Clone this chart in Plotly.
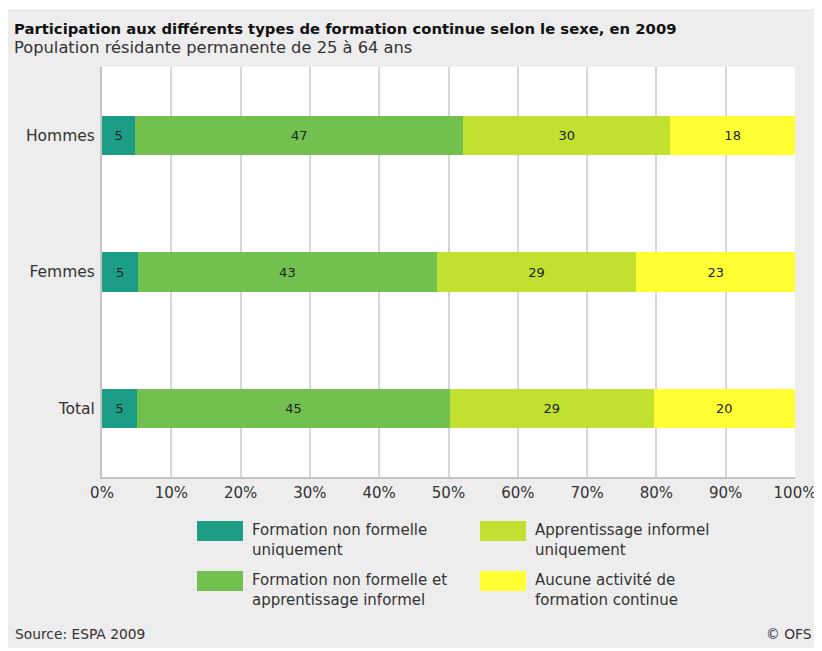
import plotly.graph_objects as go

# Data (share in %)
categories = ["Hommes", "Femmes", "Total"]
series_names = [
    "Formation non formelle<br>uniquement",
    "Formation non formelle et<br>apprentissage informel",
    "Apprentissage informel<br>uniquement",
    "Aucune activité de<br>formation continue",
]
non_formelle = [4.8, 5.2, 5.1]
non_formelle_et_informel = [47.3, 43.1, 45.1]
informel = [29.9, 28.8, 29.4]
aucune = [18.0, 22.9, 20.4]
x_ticks = list(range(0, 101, 10))

colors = ["#1b9e85", "#72c14f", "#c2e030", "#ffff33"]
series = [non_formelle, non_formelle_et_informel, informel, aucune]

FONT = "DejaVu Sans"
OFF = 8  # page body margin
W, H = 822 - OFF, 651 - OFF
L, R, T, B = 102 - OFF, 822 - 795, 67 - OFF, 651 - 477
pw, ph = W - L - R, H - T - B


def px_x(px):
    # page pixel -> paper coordinate
    return (px - OFF - L) / pw


def px_y(py):
    return (H - B - (py - OFF)) / ph


fig = go.Figure()
for name, vals, col in zip(series_names, series, colors):
    fig.add_trace(go.Bar(
        y=categories, x=vals, orientation="h", name=name,
        marker=dict(color=col, line=dict(width=0)),
        text=[f"{v:.0f}" for v in vals], textposition="inside",
        insidetextanchor="middle",
        textfont=dict(family=FONT, size=13, color="#222222"),
        showlegend=False,
    ))

shapes = []
annotations = []
# custom legend: two columns, two rows
legend_pos = [(197, 521), (197, 571), (480, 521), (480, 571)]
for (bx, by), name, col in zip(legend_pos, series_names, colors):
    shapes.append(dict(type="rect", xref="paper", yref="paper",
                       x0=px_x(bx), x1=px_x(bx + 46), y0=px_y(by), y1=px_y(by + 20),
                       fillcolor=col, line=dict(width=0)))
    annotations.append(dict(xref="paper", yref="paper", x=px_x(bx + 53), y=px_y(by - 2),
                            xanchor="left", yanchor="top", align="left", showarrow=False,
                            text=name, font=dict(family=FONT, size=15, color="#333333")))

# white frame around gray panel (page coords)
for x0, x1, y0, y1 in [(0, 822, 0, 9), (818, 822, 0, 651), (0, 822, 648, 651)]:
    shapes.append(dict(type="rect", xref="paper", yref="paper",
                       x0=px_x(x0), x1=px_x(x1), y0=px_y(y0), y1=px_y(y1),
                       fillcolor="white", line=dict(width=0), layer="above"))

annotations += [
    dict(xref="paper", yref="paper", x=px_x(12), y=px_y(29), xanchor="left", yanchor="middle",
         showarrow=False, text="<b>Participation aux différents types de formation continue selon le sexe, en 2009</b>",
         font=dict(family=FONT, size=14.8, color="#111111")),
    dict(xref="paper", yref="paper", x=px_x(12), y=px_y(48), xanchor="left", yanchor="middle",
         showarrow=False, text="Population résidante permanente de 25 à 64 ans",
         font=dict(family=FONT, size=16.3, color="#333333")),
    dict(xref="paper", yref="paper", x=px_x(13), y=px_y(634), xanchor="left", yanchor="middle",
         showarrow=False, text="Source: ESPA 2009",
         font=dict(family=FONT, size=13.8, color="#333333")),
    dict(xref="paper", yref="paper", x=px_x(814), y=px_y(634), xanchor="right", yanchor="middle",
         showarrow=False, text="© OFS",
         font=dict(family=FONT, size=13.8, color="#333333")),
]

fig.update_layout(
    barmode="stack",
    bargap=0.71,
    width=W, height=H,
    margin=dict(l=L, r=R, t=T, b=B),
    paper_bgcolor="#ededed",
    plot_bgcolor="white",
    shapes=shapes,
    annotations=annotations,
    uniformtext=dict(mode="show", minsize=13),
)
fig.update_xaxes(
    range=[0, 100], tickvals=x_ticks, ticktext=[f"{v}%" for v in x_ticks],
    showgrid=True, gridcolor="#d6d6d6", gridwidth=2,
    showline=True, linecolor="#c4c4c4", linewidth=2,
    ticks="", ticklabelstandoff=1, automargin=False,
    tickfont=dict(family=FONT, size=15, color="#333333"), zeroline=False,
)
fig.update_yaxes(
    type="category", categoryorder="array", categoryarray=categories,
    range=[2.5, -0.5], showgrid=False,
    showline=True, linecolor="#c4c4c4", linewidth=2,
    ticks="", ticklabelstandoff=2, automargin=False,
    tickfont=dict(family=FONT, size=15.5, color="#333333"),
)

fig.write_html("out.html")
